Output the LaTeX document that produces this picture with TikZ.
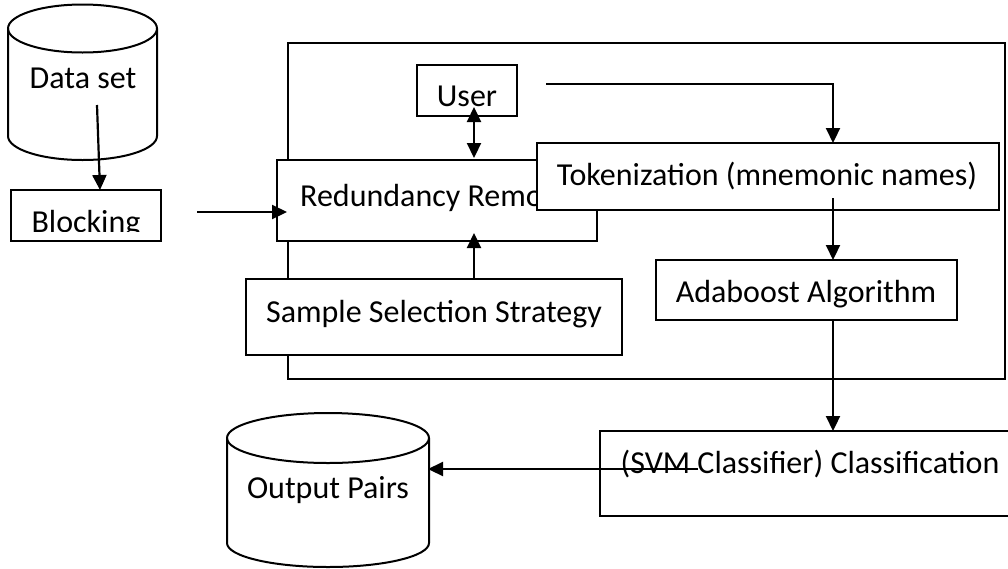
\documentclass[tikz,border=0pt]{standalone}
\usepackage{fontspec}
\setmainfont{Carlito}
\usetikzlibrary{arrows.meta}
\tikzset{
  box/.style={draw, fill=white, line width=2pt, inner sep=0pt, outer sep=0pt,
    minimum width=#1},
  lbl/.style={anchor=base, inner sep=0pt, font=\fontsize{32}{38}\selectfont},
  tip/.tip={Triangle[length=15pt, width=14pt]},
  link/.style={line width=2.2pt, -tip},
  dlink/.style={line width=2.2pt, tip-tip},
  edge line/.style={line width=2pt},
}
\begin{document}
\begin{tikzpicture}[x=1pt, y=-1pt]
\clip (0,0) rectangle (1008,568);
\fill[white] (0,0) rectangle (1008,568);

% frame around the processing stages
\draw[edge line] (288,43) rectangle (1005,379);

% cylinders, drawn with the y axis pointing up
\begin{scope}[y=1pt]
  % Data set store
  \draw[edge line, fill=white] (8,-28.5) -- (8,-136)
    arc[start angle=180, end angle=360, x radius=74.5pt, y radius=24pt]
    -- (157,-28.5)
    arc[start angle=0, end angle=180, x radius=74.5pt, y radius=24pt] -- cycle;
  \draw[edge line] (8,-28.5)
    arc[start angle=180, end angle=360, x radius=74.5pt, y radius=24pt];
  % Output store
  \draw[edge line, fill=white] (227,-438) -- (227,-543)
    arc[start angle=180, end angle=360, x radius=101pt, y radius=24pt]
    -- (429,-438)
    arc[start angle=0, end angle=180, x radius=101pt, y radius=25pt] -- cycle;
  \draw[edge line] (227,-438)
    arc[start angle=180, end angle=360, x radius=101pt, y radius=25pt];
\end{scope}
\node[lbl] (data) at (83,88) {Data set};
\coordinate (dataout) at (97,105);
\node[lbl] (outlbl) at (328,498) {Output Pairs};
\coordinate (outin) at (428,469);

% Blocking
\node[box=150pt, minimum height=51pt] (block) at (85.5,215.5) {};
\begin{scope}
  \clip (11,190) rectangle (160,231);
  \node[lbl] (blocklbl) at (86,232) {Blocking};
\end{scope}
\coordinate (blockout) at (197,212);

% Redundancy removal
\node[box=320pt, minimum height=81pt] (redund) at (437,200.5) {};
\node[lbl, anchor=base west] (redundlbl) at (300,206) {Redundancy Removal};

% User
\node[box=100pt, minimum height=51pt] (user) at (467,90.5) {};
\node[lbl] (userlbl) at (467,106) {User};

% Sample selection
\node[box=376pt, minimum height=76pt] (sample) at (434,317) {};
\node[lbl] (samplelbl) at (434,322) {Sample Selection Strategy};

% Tokenization
\node[box=462pt, minimum height=67pt] (token) at (768,176.5) {};
\node[lbl] (tokenlbl) at (767,185) {Tokenization (mnemonic names)};

% Adaboost
\node[box=301pt, minimum height=60pt] (ada) at (806.5,290) {};
\node[lbl] (adalbl) at (806,302) {Adaboost Algorithm};

% SVM classification
\node[box=420pt, minimum height=85pt] (svm) at (810,473.5) {};
\node[lbl] (svmlbl) at (810,473) {(SVM Classifier) Classification};

% connectors
\draw[link] (dataout) -- (block.north -| 100,0);
\draw[link] (blockout) -- (287,212);
\draw[dlink] (474,107) -- (474,158);
\draw[link] (sample.north -| 474,0) -- (474,233);
\draw[link] (546,84) -- (833,84) -- (token.north -| 833,0);
\draw[link] (833,198) -- (ada.north -| 833,0);
\draw[link] (ada.south -| 833,0) -- (svm.north -| 833,0);
\draw[link] (698,469) -- (outin);
\end{tikzpicture}
\end{document}
